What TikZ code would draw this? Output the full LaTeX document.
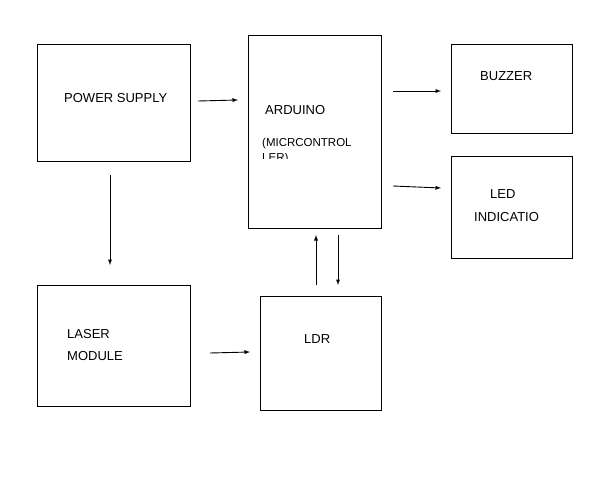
\documentclass[tikz,border=0pt]{standalone}
\usepackage{fontspec}
\setmainfont{Liberation Sans}
\begin{document}
\begin{tikzpicture}[x=1pt,y=-1pt,
  box/.style={draw,line width=0.9pt},
  arr/.style={-latex,line width=0.9pt},
  lbl/.style={anchor=base west,inner sep=0,font=\fontsize{13}{15}\selectfont},
  sml/.style={anchor=base west,inner sep=0,font=\fontsize{11.5}{13}\selectfont}]
\useasboundingbox (0,0) rectangle (602,495);
\draw[box] (37,44) rectangle (190,161) coordinate (psc);
\node (ps) [minimum width=153pt,minimum height=117pt,inner sep=0] at (113.5,102.5) {};
\node (ard) [draw,line width=0.9pt,minimum width=133pt,minimum height=193pt,inner sep=0] at (314.5,131.5) {};
\node (buz) [draw,line width=0.9pt,minimum width=121pt,minimum height=89pt,inner sep=0] at (511.5,88.5) {};
\node (led) [draw,line width=0.9pt,minimum width=121pt,minimum height=102pt,inner sep=0] at (511.5,207) {};
\node (las) [draw,line width=0.9pt,minimum width=153pt,minimum height=121pt,inner sep=0] at (113.5,345.5) {};
\node (ldr) [draw,line width=0.9pt,minimum width=121pt,minimum height=114pt,inner sep=0] at (320.5,353) {};
\node[lbl] (t1) at (64,102) {POWER SUPPLY};
\node[lbl] (t2) at (265,114) {ARDUINO};
\node[sml] (t3) at (262,146) {(MICRCONTROL};
\begin{scope}
\clip (250,153) rectangle (380,158);
\node[sml] (t3b) at (262,161) {LER)};
\end{scope}
\node[lbl] (t4) at (480,80) {BUZZER};
\node[lbl] (t5) at (490,198) {LED};
\node[lbl] (t6) at (474,221) {INDICATIO};
\node[lbl] (t7) at (67,338) {LASER};
\node[lbl] (t8) at (67,360) {MODULE};
\node[lbl] (t9) at (304,343) {LDR};
\coordinate (a1) at (198,101); \coordinate (a2) at (238,100);
\draw[arr] (a1) -- (a2);
\coordinate (b1) at (393,91); \coordinate (b2) at (441,91);
\draw[arr] (b1) -- (b2);
\coordinate (c1) at (393,186); \coordinate (c2) at (441,188);
\draw[arr] (c1) -- (c2);
\coordinate (d1) at (110,175); \coordinate (d2) at (110,265);
\draw[arr] (d1) -- (d2);
\coordinate (e1) at (210,353); \coordinate (e2) at (250,352);
\draw[arr] (e1) -- (e2);
\coordinate (f1) at (316,285); \coordinate (f2) at (316,235);
\draw[arr] (f1) -- (f2);
\coordinate (g1) at (338,235); \coordinate (g2) at (338,285);
\draw[arr] (g1) -- (g2);
\end{tikzpicture}
\end{document}
